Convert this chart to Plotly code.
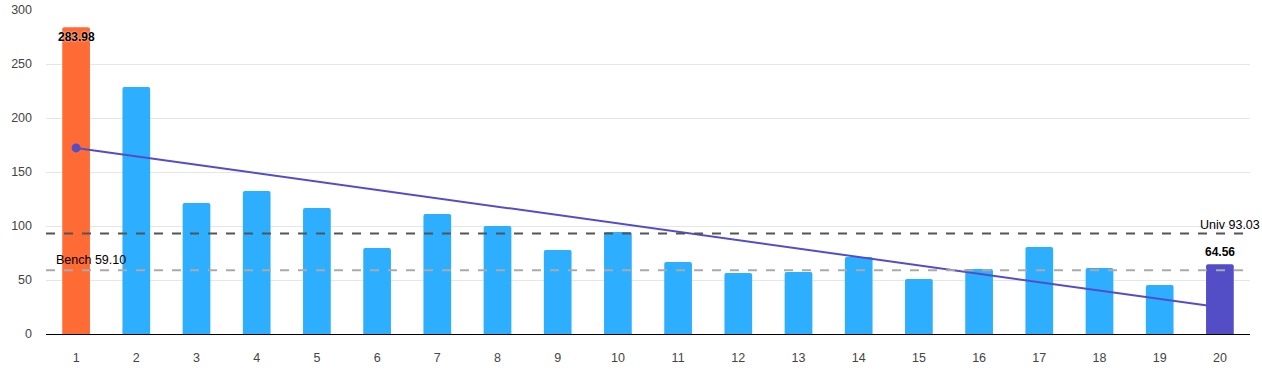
import plotly.graph_objects as go

categories = list(range(1, 21))
values = [283.98, 228.7, 121.3, 132.4, 116.7, 79.6, 111.1, 100.0, 77.8, 94.4,
          66.7, 56.5, 57.4, 71.3, 50.9, 60.2, 80.6, 61.1, 45.4, 64.56]
bar_colors = ["#FF6B35"] + ["#2DAEFF"] * 18 + ["#534EC6"]
trend_x = [1, 20]
trend_y = [172.3, 24.7]
univ_value = 93.03
bench_value = 59.10
y_ticks = [0, 50, 100, 150, 200, 250, 300]

font_family = "Liberation Sans, Arial, sans-serif"

fig = go.Figure()
fig.add_trace(go.Bar(
    x=categories[:-1], y=values[:-1],
    marker=dict(color=bar_colors[:-1], cornerradius=2, line=dict(width=0)),
    width=0.46, hoverinfo="x+y", showlegend=False,
))
fig.add_trace(go.Scatter(
    x=trend_x, y=trend_y, mode="lines",
    line=dict(color="#534EC6", width=2), showlegend=False,
))
fig.add_trace(go.Scatter(
    x=trend_x[:1], y=trend_y[:1], mode="markers",
    marker=dict(size=9, color="#534EC6", line=dict(width=0)), showlegend=False,
))
fig.add_trace(go.Bar(
    x=categories[-1:], y=values[-1:],
    marker=dict(color=bar_colors[-1:], cornerradius=2, line=dict(width=0)),
    width=0.46, hoverinfo="x+y", showlegend=False,
))

shapes = [
    dict(type="line", xref="paper", x0=0, x1=1, yref="y", y0=univ_value, y1=univ_value,
         line=dict(color="#555555", width=2, dash="dash"), layer="above"),
    dict(type="line", xref="paper", x0=0, x1=1, yref="y", y0=bench_value, y1=bench_value,
         line=dict(color="#AAAAAA", width=2, dash="dash"), layer="above"),
]

label_font = dict(size=12, color="#000", family=font_family, shadow="0px 0px 2px white")
annotations = [
    dict(x=categories[0], y=values[0], text="<b>283.98</b>", showarrow=False,
         yanchor="top", yshift=-1, font=label_font),
    dict(x=categories[-1], y=values[-1], text="<b>64.56</b>", showarrow=False,
         yanchor="bottom", yshift=3, font=label_font),
    dict(xref="paper", x=1, xanchor="right", xshift=12, y=univ_value, yanchor="bottom",
         yshift=0, text=f"Univ {univ_value:.2f}", showarrow=False,
         font=dict(size=12.5, color="#000", family=font_family)),
    dict(xref="paper", x=0, xanchor="left", xshift=8, y=bench_value, yanchor="bottom",
         yshift=1, text=f"Bench {bench_value:.2f}", showarrow=False,
         font=dict(size=12.5, color="#000", family=font_family)),
]

tick_font = dict(size=12.5, color="#444", family=font_family)

fig.update_layout(
    width=1262, height=379,
    margin=dict(l=46, r=12, t=10, b=45, autoexpand=False),
    plot_bgcolor="white", paper_bgcolor="white",
    font=dict(family=font_family, size=12, color="#444"),
    shapes=shapes, annotations=annotations,
    barmode="overlay",
    xaxis=dict(range=[0.5, 20.5], tickvals=categories, showgrid=False, showline=True,
               linecolor="#000", linewidth=1, ticks="", zeroline=False, automargin=False,
               ticklabelstandoff=12, tickfont=tick_font),
    yaxis=dict(range=[0, 300], tickvals=y_ticks, showgrid=True, gridcolor="#E6E6E6",
               gridwidth=1, zeroline=False, ticks="", automargin=False,
               ticklabelstandoff=13, tickfont=tick_font),
)

fig.write_html("out.html", config={"displayModeBar": False},
               post_script="document.body.style.margin='0';")
